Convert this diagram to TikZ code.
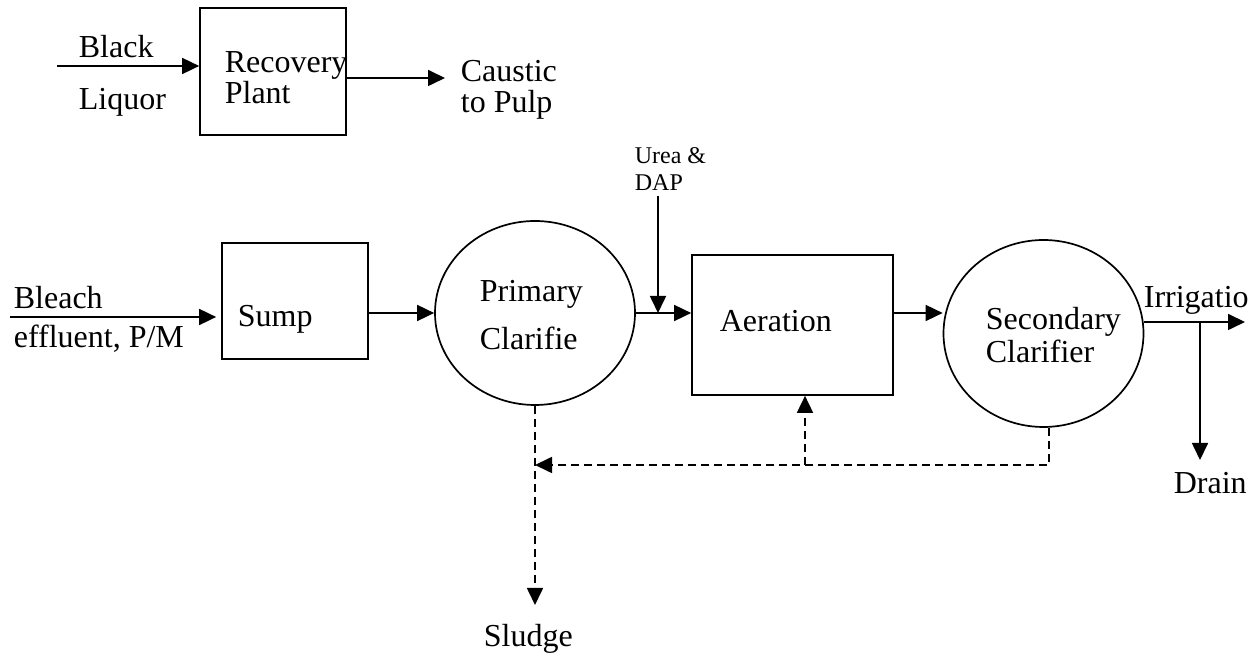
\documentclass[tikz,border=0pt]{standalone}
\usepackage{fontspec}
\setmainfont{Liberation Serif}
\usetikzlibrary{arrows.meta,shapes.geometric,positioning}

\begin{document}
\begin{tikzpicture}[x=0.5pt,y=-0.5pt,line width=0.85pt,
    box/.style={draw,rectangle,inner sep=0pt},
    tank/.style={draw,ellipse,inner sep=0pt},
    lbl/.style={anchor=base west,inner sep=0pt,font=\fontsize{16}{19}\selectfont},
    small/.style={anchor=base west,inner sep=0pt,font=\fontsize{12}{14}\selectfont},
    flow/.style={-{Triangle[length=8.5pt,width=8pt]}},
    back/.style={flow,dash pattern=on 4pt off 2.5pt}]
          \useasboundingbox (0,0) rectangle (1259,656);

          % recovery line
          \node[box,minimum width=73pt,minimum height=63.5pt] (recov) at (273,71.5) {};
          \node[lbl] (recov1) at (224,73) {Recovery};
          \node[lbl] (recov2) at (224,104) {Plant};
          \node[lbl] (black1) at (78,58) {Black};
          \node[lbl] (black2) at (78,110) {Liquor};
          \node[lbl] (caus1) at (460,82) {Caustic};
          \node[lbl] (caus2) at (460,113) {to Pulp};
          \coordinate (blin) at (57,66);
          \coordinate (caus) at (445,78);
          \draw[flow] (blin) -- (blin -| recov.west);
          \draw[flow] (caus -| recov.east) -- (caus);

          % treatment line
          \node[box,minimum width=73pt,minimum height=58pt] (sump) at (295,301) {};
          \node[tank,minimum width=100pt,minimum height=92pt] (prim) at (535,313) {};
          \node[box,minimum width=100.5pt,minimum height=70pt] (aer) at (792.5,325) {};
          \node[tank,minimum width=100pt,minimum height=93.5pt] (sec) at (1043.5,333.5) {};

          \node[lbl] (bleach1) at (13,309) {Bleach};
          \node[lbl] (bleach2) at (13,348) {effluent, P/M};
          \node[lbl] (sumpt) at (237,327) {Sump};
          \node[lbl] (prim1) at (479,302) {Primary};
          \node[lbl] (prim2) at (479,350) {Clarifie};
          \node[small] (urea1) at (634,164) {Urea \&};
          \node[small] (urea2) at (634,191) {DAP};
          \node[lbl] (aert) at (719,332) {Aeration};
          \node[lbl] (sec1) at (985,330) {Secondary};
          \node[lbl] (sec2) at (985,363) {Clarifier};
          \node[lbl] (irrt) at (1143,308) {Irrigatio};
          \node[lbl] (drnt) at (1173,494) {Drain};
          \node[lbl] (sludt) at (483,647) {Sludge};

          \coordinate (bl) at (10,317);
          \coordinate (urea) at (658,196);
          \coordinate (irr) at (1245,322);
          \coordinate (drn) at (1200,460);
          \coordinate (ret) at (805,465);
          \coordinate (slud) at (535,605);

          \draw[flow,shorten >=2.5pt] (bl) -- (bl -| sump.west);
          \draw[flow] (sump.east |- prim.west) -- (prim.west);
          \draw[flow] (prim.east) -- (prim.east -| aer.west);
          \draw[flow] (urea) -- (urea |- prim.east);
          \draw[flow] (aer.east |- prim.east) -- (prim.east -| sec.west);
          \draw[flow] (irr -| sec.east) -- (irr);
          \draw[flow] (drn |- irr) -- (drn);

          % sludge return
          \draw[back] ([xshift=2.75pt]sec.south) |- (ret -| prim.south);
          \draw[back] (ret) -- (ret |- aer.south);
          \draw[back] (prim.south) -- (slud);
        \end{tikzpicture}
\end{document}
